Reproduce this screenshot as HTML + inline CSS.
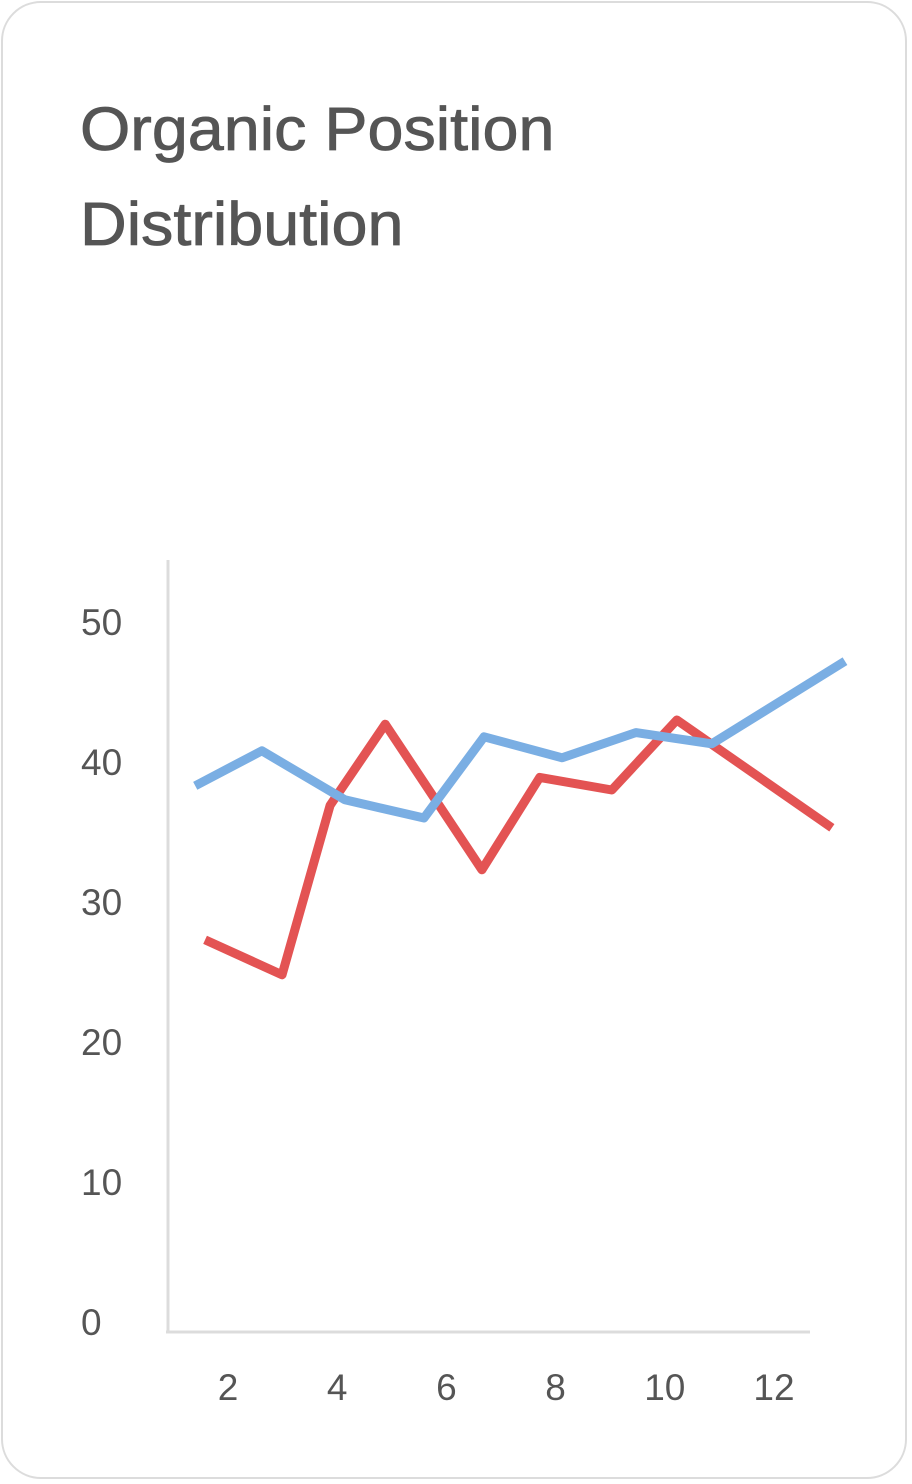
<!DOCTYPE html>
<html><head><meta charset="utf-8"><style>
html,body{margin:0;padding:0;background:#fff;}
body{width:912px;height:1484px;position:relative;font-family:"Liberation Sans",sans-serif;}
.card{position:absolute;left:1px;top:1px;width:906px;height:1478px;border:2px solid #dcdcdc;border-radius:40px;box-sizing:border-box;}
.title{position:absolute;left:80px;top:82px;font-size:61px;line-height:95px;color:#555;transform:scaleX(1.06);transform-origin:0 0;-webkit-text-stroke:0.8px #555;white-space:nowrap;}
</style></head><body>
<div class="card"></div>
<div class="title">Organic Position<br>Distribution</div>
<svg id="chart" width="912" height="1484" style="position:absolute;left:0;top:0"></svg>
<script>
const yTicks=[0,10,20,30,40,50];
const xTicks=[2,4,6,8,10,12];
const redX=[1.58,2.99,3.87,4.88,6.65,7.71,9.03,10.22,13.06];
const redY=[27.3,24.8,36.9,42.7,32.3,38.9,38.0,43.0,35.3];
const blueX=[1.40,2.62,4.14,5.59,6.69,8.12,9.47,10.86,13.3];
const blueY=[38.3,40.8,37.3,36.0,41.8,40.3,42.1,41.3,47.2];
const svg=document.getElementById('chart');
const NS='http://www.w3.org/2000/svg';
const xs=v=>228+(v-2)*54.6;
const ys=v=>1322-v*14;
function mk(t,a){const e=document.createElementNS(NS,t);for(const k in a)e.setAttribute(k,a[k]);svg.appendChild(e);return e;}
let e=mk('line',{x1:168,y1:560,x2:168,y2:1332,stroke:'#dcdcdc','stroke-width':3});


e=mk('line',{x1:166,y1:1332,x2:810,y2:1332,stroke:'#dcdcdc','stroke-width':3});


yTicks.forEach(v=>{const t=mk('text',{x:81,y:ys(v)+13,'font-size':37,fill:'#555','font-family':'Liberation Sans, sans-serif'});t.textContent=v;

});
xTicks.forEach(v=>{const t=mk('text',{x:xs(v),y:1400,'font-size':37,fill:'#555','text-anchor':'middle','font-family':'Liberation Sans, sans-serif'});t.textContent=v;

});
function line(X,Y,c,name){const p=mk('polyline',{points:X.map((x,i)=>xs(x)+','+ys(Y[i])).join(' '),fill:'none',stroke:c,'stroke-width':9,'stroke-linejoin':'round'});

}
line(redX,redY,'#e35353','red-series-line');
line(blueX,blueY,'#7aaee3','blue-series-line');
</script>
</body></html>
